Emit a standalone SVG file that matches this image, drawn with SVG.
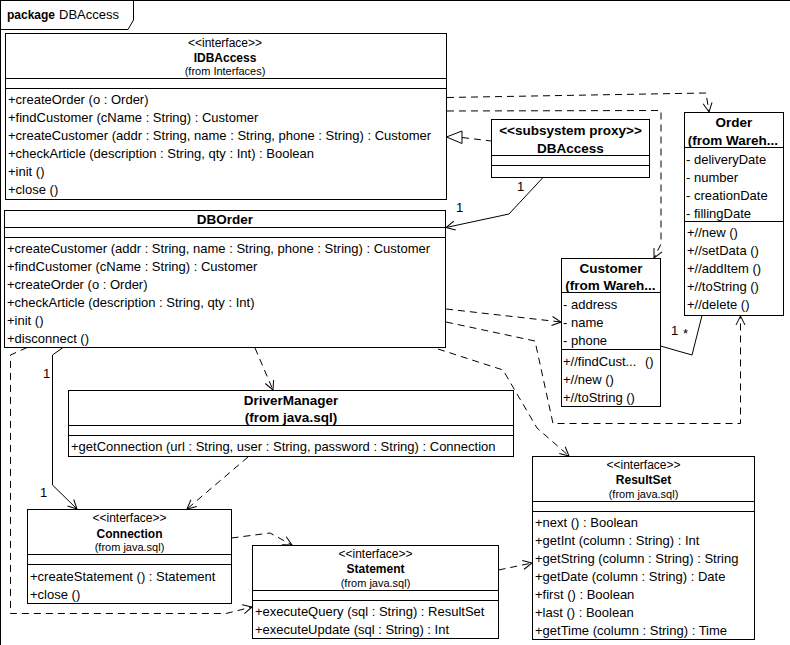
<svg xmlns="http://www.w3.org/2000/svg" width="790" height="645" viewBox="0 0 790 645">
<style>
.box{fill:#fff;stroke:#000;stroke-width:1}
.sep{stroke:#000;stroke-width:1}
.dep{fill:none;stroke:#000;stroke-width:1;stroke-dasharray:7 5;marker-end:url(#open)}
.dep2{fill:none;stroke:#000;stroke-width:1;stroke-dasharray:7 5}
.assoc{fill:none;stroke:#000;stroke-width:1}
.nav{fill:none;stroke:#000;stroke-width:1;marker-end:url(#open)}
text{font-family:"Liberation Sans",Arial,sans-serif;font-size:13px;fill:#000}
.c{text-anchor:middle}
.b{font-weight:bold}
.st{font-size:12px}
.fr{font-size:11px}
.tb{font-size:13.5px;font-weight:bold}
.ib{font-size:12px;font-weight:bold}
</style>
<defs>
<marker id="open" markerWidth="12" markerHeight="12" refX="9" refY="4.5" orient="auto" markerUnits="userSpaceOnUse" overflow="visible">
<path d="M0,0 L9,4.5 L0,9" fill="none" stroke="#000" stroke-width="1" stroke-dasharray="none"/>
</marker>
</defs>
<rect x="0" y="0" width="790" height="645" fill="#fff"/>
<g id="package-frame">
<rect x="0.5" y="0.5" width="820" height="700" fill="none" stroke="#000"/>
<path d="M0.5,29.5 L128,29.5 L133.5,20 L133.5,0.5" fill="none" stroke="#000"/>
<text x="7" y="19" class="b" style="font-size:12px">package</text>
<text x="59" y="19">DBAccess</text>
</g>

<g id="connectors">
<!-- realization proxy -> IDBAccess -->
<path class="dep2" d="M462,137.5 L491,141"/>
<polygon points="446.5,137 462,131 462,143.5" fill="#fff" stroke="#000"/>
<!-- association proxy -> DBOrder -->
<path class="nav" d="M543,177.5 L509,214 L446,227.5"/>
<text x="517" y="191">1</text>
<text x="456" y="212">1</text>
<!-- IDBAccess -> Order -->
<path class="dep" d="M447,97.5 L706,93 L709,112"/>
<!-- IDBAccess -> Customer -->
<path class="dep" d="M447,111 L661,110.5 L661,244 L654,258"/>
<!-- DBOrder -> Customer -->
<path class="dep" d="M446,309 L561,322"/>
<!-- DBOrder -> Order -->
<path class="dep" d="M446,322 L535,341 L553,423.5 L740.5,423.5 L740.5,316"/>
<!-- DBOrder -> ResultSet -->
<path class="dep" d="M438,349 L503,370 L537,428 L569,456"/>
<!-- Customer - Order association -->
<path class="assoc" d="M660.5,346 L692,355 L702,315.5"/>
<text x="671" y="335">1</text>
<text x="683" y="338">*</text>
<!-- DBOrder -> DriverManager -->
<path class="dep" d="M255,348 L273,390"/>
<!-- DBOrder -> Connection association -->
<path class="nav" d="M63,347.5 L52.5,355 L52.5,485 L77,509"/>
<text x="43" y="378">1</text>
<text x="40" y="497">1</text>
<!-- DriverManager -> Connection -->
<path class="dep" d="M248,457 L187,509"/>
<!-- DBOrder -> Statement (left loop) -->
<path class="dep" d="M27,347.5 L10.5,355 L10.5,613.5 L226,613.5 L252,607"/>
<!-- Connection -> Statement -->
<path class="dep" d="M231.5,538 L270,533 L292,545"/>
<!-- Statement -> ResultSet -->
<path class="dep" d="M498.5,570 L532,563"/>
</g>

<g id="IDBAccess">
<rect class="box" x="5.5" y="33.5" width="441" height="166"/>
<line class="sep" x1="5.5" y1="78.5" x2="446.5" y2="78.5"/>
<line class="sep" x1="5.5" y1="88.5" x2="446.5" y2="88.5"/>
<text x="225" y="47" class="c st">&lt;&lt;interface&gt;&gt;</text>
<text x="225" y="62" class="c ib">IDBAccess</text>
<text x="225" y="75" class="c fr">(from Interfaces)</text>
<text x="8" y="104">+createOrder (o : Order)</text>
<text x="8" y="122">+findCustomer (cName : String) : Customer</text>
<text x="8" y="140">+createCustomer (addr : String, name : String, phone : String) : Customer</text>
<text x="8" y="158">+checkArticle (description : String, qty : Int) : Boolean</text>
<text x="8" y="176">+init ()</text>
<text x="8" y="194">+close ()</text>
</g>

<g id="DBAccessProxy">
<rect class="box" x="491.5" y="119.5" width="158" height="58"/>
<line class="sep" x1="491.5" y1="155.5" x2="649.5" y2="155.5"/>
<line class="sep" x1="491.5" y1="165.5" x2="649.5" y2="165.5"/>
<text x="570.5" y="135" class="c tb">&lt;&lt;subsystem proxy&gt;&gt;</text>
<text x="570.5" y="153" class="c tb">DBAccess</text>
</g>

<g id="Order">
<rect class="box" x="684.5" y="112.5" width="99" height="203"/>
<line class="sep" x1="684.5" y1="147.5" x2="783.5" y2="147.5"/>
<line class="sep" x1="684.5" y1="221.5" x2="783.5" y2="221.5"/>
<text x="734" y="127" class="c tb">Order</text>
<text x="733" y="145" class="c tb">(from Wareh...</text>
<text x="686" y="163.5">- deliveryDate</text>
<text x="686" y="181.5">- number</text>
<text x="686" y="199.5">- creationDate</text>
<text x="686" y="217.5">- fillingDate</text>
<text x="687" y="237">+//new ()</text>
<text x="687" y="255">+//setData ()</text>
<text x="687" y="273">+//addItem ()</text>
<text x="687" y="291">+//toString ()</text>
<text x="687" y="309">+//delete ()</text>
</g>

<g id="DBOrder">
<rect class="box" x="4.5" y="210.5" width="441" height="137"/>
<line class="sep" x1="4.5" y1="227.5" x2="445.5" y2="227.5"/>
<line class="sep" x1="4.5" y1="237.5" x2="445.5" y2="237.5"/>
<text x="225" y="224" class="c tb">DBOrder</text>
<text x="7" y="253">+createCustomer (addr : String, name : String, phone : String) : Customer</text>
<text x="7" y="271">+findCustomer (cName : String) : Customer</text>
<text x="7" y="289">+createOrder (o : Order)</text>
<text x="7" y="307">+checkArticle (description : String, qty : Int)</text>
<text x="7" y="325">+init ()</text>
<text x="7" y="343">+disconnect ()</text>
</g>

<g id="Customer">
<rect class="box" x="561.5" y="258.5" width="99" height="148"/>
<line class="sep" x1="561.5" y1="292.5" x2="660.5" y2="292.5"/>
<line class="sep" x1="561.5" y1="349.5" x2="660.5" y2="349.5"/>
<text x="611" y="272.5" class="c tb">Customer</text>
<text x="610.5" y="290" class="c tb">(from Wareh...</text>
<text x="563" y="309">- address</text>
<text x="563" y="327">- name</text>
<text x="563" y="345">- phone</text>
<text x="563" y="366">+//findCust...<tspan x="645">()</tspan></text>
<text x="563" y="384">+//new ()</text>
<text x="563" y="402">+//toString ()</text>
</g>

<g id="DriverManager">
<rect class="box" x="68.5" y="390.5" width="445" height="66"/>
<line class="sep" x1="68.5" y1="425.5" x2="513.5" y2="425.5"/>
<line class="sep" x1="68.5" y1="435.5" x2="513.5" y2="435.5"/>
<text x="291" y="405" class="c tb">DriverManager</text>
<text x="291" y="422" class="c tb">(from java.sql)</text>
<text x="71" y="451">+getConnection (url : String, user : String, password : String) : Connection</text>
</g>

<g id="Connection">
<rect class="box" x="27.5" y="509.5" width="204" height="94"/>
<line class="sep" x1="27.5" y1="554.5" x2="231.5" y2="554.5"/>
<line class="sep" x1="27.5" y1="564.5" x2="231.5" y2="564.5"/>
<text x="129.5" y="522" class="c st">&lt;&lt;interface&gt;&gt;</text>
<text x="129.5" y="537.5" class="c ib">Connection</text>
<text x="129.5" y="551" class="c fr">(from java.sql)</text>
<text x="30" y="580.5">+createStatement () : Statement</text>
<text x="30" y="598.5">+close ()</text>
</g>

<g id="Statement">
<rect class="box" x="252.5" y="545.5" width="246" height="93"/>
<line class="sep" x1="252.5" y1="590.5" x2="498.5" y2="590.5"/>
<line class="sep" x1="252.5" y1="600.5" x2="498.5" y2="600.5"/>
<text x="375.5" y="557.5" class="c st">&lt;&lt;interface&gt;&gt;</text>
<text x="375.5" y="573" class="c ib">Statement</text>
<text x="375.5" y="587" class="c fr">(from java.sql)</text>
<text x="255" y="616">+executeQuery (sql : String) : ResultSet</text>
<text x="255" y="634">+executeUpdate (sql : String) : Int</text>
</g>

<g id="ResultSet">
<rect class="box" x="532.5" y="456.5" width="222" height="183"/>
<line class="sep" x1="532.5" y1="501.5" x2="754.5" y2="501.5"/>
<line class="sep" x1="532.5" y1="511.5" x2="754.5" y2="511.5"/>
<text x="643.5" y="468.5" class="c st">&lt;&lt;interface&gt;&gt;</text>
<text x="643.5" y="484" class="c ib">ResultSet</text>
<text x="643.5" y="497.5" class="c fr">(from java.sql)</text>
<text x="535" y="526.5">+next () : Boolean</text>
<text x="535" y="544.5">+getInt (column : String) : Int</text>
<text x="535" y="562.5">+getString (column : String) : String</text>
<text x="535" y="580.5">+getDate (column : String) : Date</text>
<text x="535" y="598.5">+first () : Boolean</text>
<text x="535" y="616.5">+last () : Boolean</text>
<text x="535" y="634.5">+getTime (column : String) : Time</text>
</g>
</svg>
